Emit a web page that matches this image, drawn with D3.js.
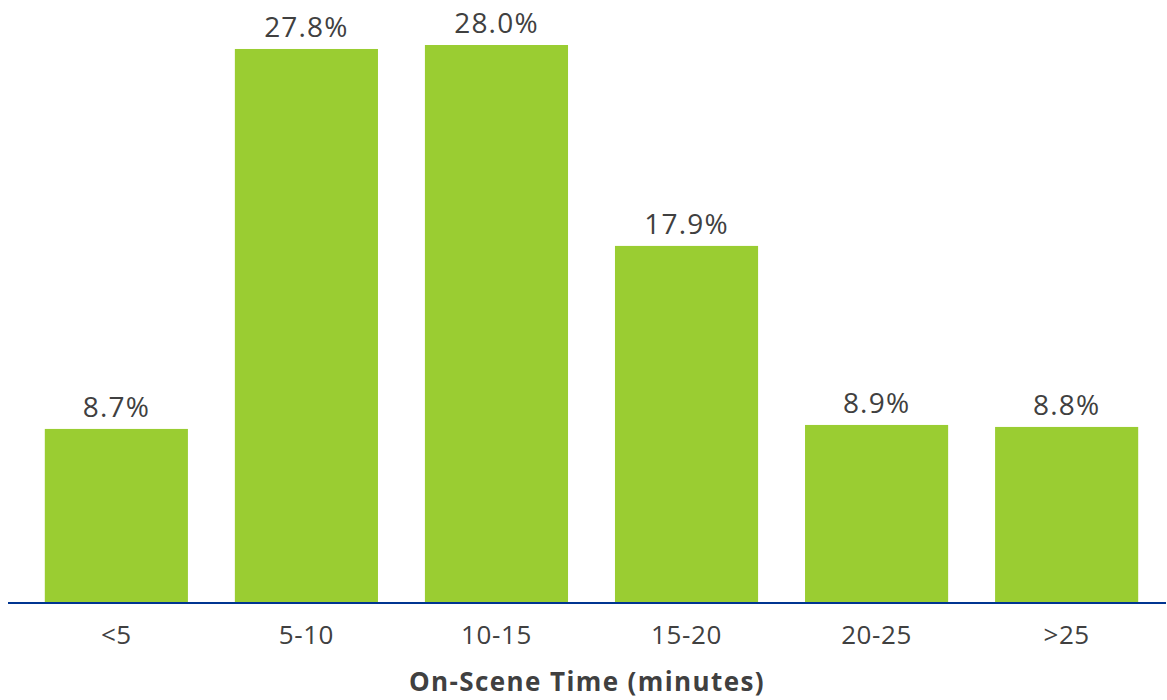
<!DOCTYPE html>
<html>
<head>
<meta charset="utf-8">
<script src="https://cdn.jsdelivr.net/npm/d3@7"></script>
<style>
  body { margin: 0; background: #fff; }
  svg { display: block; font-family: "Open Sans", "Noto Sans", sans-serif; }
</style>
</head>
<body>
<div id="chart"></div>
<script>
//////////////////////////// data /////////////////////////////////////////

const categories = ["<5", "5-10", "10-15", "15-20", "20-25", ">25"];
const shares = [8.7, 27.8, 28.0, 17.9, 8.9, 8.8];
const axisTitle = "On-Scene Time (minutes)";

const data = categories.map((c, i) => ({ cat: c, val: shares[i] }));

//////////////////////////// sizes ///////////////////////////////////////

const width = 1167;
const height = 700;
const baseline = 602;
const barColor = "#9acd32";
const textColor = "#404040";

const svg = d3.select("#chart").append("svg")
  .attr("width", width)
  .attr("height", height);

//////////////////////////// scales ///////////////////////////////////////

const x = d3.scaleBand()
  .domain(categories)
  .range([22, 1161])
  .paddingInner(0.247)
  .paddingOuter(0.12);

const y = d3.scaleLinear()
  .domain([0, 28])
  .range([baseline, 45]);

//////////////////////////// bars /////////////////////////////////////////

svg.append("g")
  .selectAll("rect")
  .data(data)
  .join("rect")
  .attr("x", d => x(d.cat))
  .attr("y", d => y(d.val))
  .attr("width", x.bandwidth())
  .attr("height", d => baseline - y(d.val))
  .attr("fill", barColor);

svg.append("g")
  .selectAll("text")
  .data(data)
  .join("text")
  .attr("x", d => x(d.cat) + x.bandwidth() / 2)
  .attr("y", d => y(d.val) - 12)
  .attr("text-anchor", "middle")
  .attr("font-size", 28)
  .attr("letter-spacing", 1.2)
  .attr("fill", textColor)
  .text(d => d.val.toFixed(1) + "%");

//////////////////////////// axis /////////////////////////////////////////

svg.append("line")
  .attr("x1", 8)
  .attr("x2", 1166)
  .attr("y1", baseline + 1)
  .attr("y2", baseline + 1)
  .attr("stroke", "#003591")
  .attr("stroke-width", 2);

svg.append("g")
  .selectAll("text")
  .data(categories)
  .join("text")
  .attr("x", d => x(d) + x.bandwidth() / 2)
  .attr("y", 644)
  .attr("text-anchor", "middle")
  .attr("font-size", 26)
  .attr("letter-spacing", 0.6)
  .attr("fill", textColor)
  .text(d => d);

svg.append("text")
  .attr("x", (8 + 1166) / 2)
  .attr("y", 691)
  .attr("text-anchor", "middle")
  .attr("font-size", 26)
  .attr("font-weight", "bold")
  .attr("letter-spacing", 1.4)
  .attr("fill", textColor)
  .text(axisTitle);
</script>
</body>
</html>
